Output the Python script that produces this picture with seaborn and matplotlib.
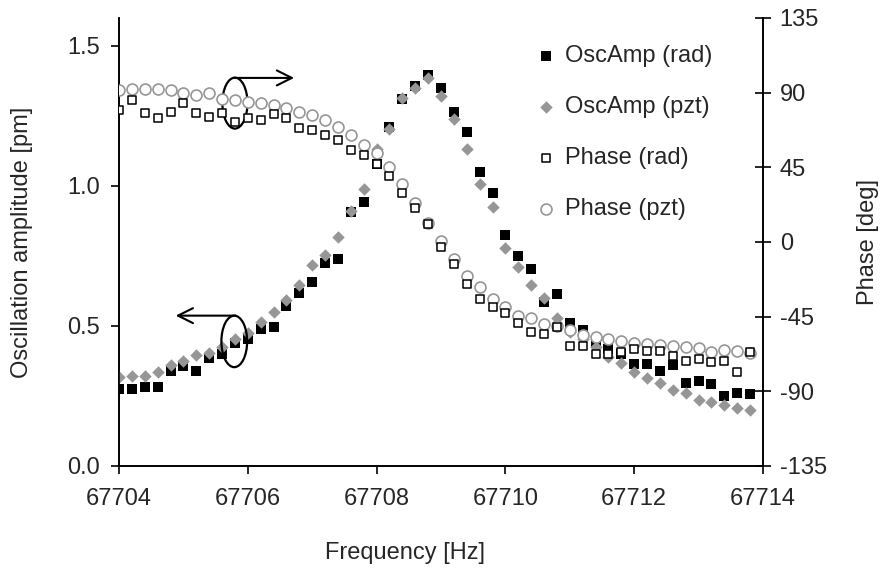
import numpy as np
import pandas as pd
import matplotlib
matplotlib.use("Agg")
import matplotlib.pyplot as plt
from matplotlib.patches import Ellipse
import seaborn as sns

freq = [67704.0, 67704.2, 67704.4, 67704.6, 67704.8, 67705.0, 67705.2, 67705.4, 67705.6, 67705.8,
        67706.0, 67706.2, 67706.4, 67706.6, 67706.8, 67707.0, 67707.2, 67707.4, 67707.6, 67707.8,
        67708.0, 67708.2, 67708.4, 67708.6, 67708.8, 67709.0, 67709.2, 67709.4, 67709.6, 67709.8,
        67710.0, 67710.2, 67710.4, 67710.6, 67710.8, 67711.0, 67711.2, 67711.4, 67711.6, 67711.8,
        67712.0, 67712.2, 67712.4, 67712.6, 67712.8, 67713.0, 67713.2, 67713.4, 67713.6, 67713.8]

amp_rad = [0.275, 0.275, 0.283, 0.283, 0.340, 0.357, 0.340, 0.385, 0.400, 0.438,
           0.452, 0.488, 0.495, 0.571, 0.619, 0.658, 0.724, 0.738, 0.908, 0.944,
           1.077, 1.212, 1.310, 1.357, 1.396, 1.349, 1.265, 1.194, 1.051, 0.974,
           0.825, 0.750, 0.702, 0.587, 0.613, 0.512, 0.486, 0.438, 0.417, 0.399,
           0.363, 0.363, 0.340, 0.361, 0.298, 0.305, 0.292, 0.251, 0.262, 0.257]

amp_pzt = [0.317, 0.321, 0.321, 0.337, 0.361, 0.376, 0.396, 0.405, 0.424, 0.452,
           0.474, 0.515, 0.551, 0.593, 0.646, 0.718, 0.754, 0.818, 0.912, 0.990,
           1.132, 1.204, 1.315, 1.351, 1.387, 1.321, 1.238, 1.132, 1.007, 0.926,
           0.777, 0.712, 0.646, 0.599, 0.530, 0.480, 0.452, 0.426, 0.388, 0.367,
           0.337, 0.313, 0.295, 0.271, 0.260, 0.236, 0.230, 0.218, 0.208, 0.200]

phase_rad = [79.6, 85.6, 77.6, 74.6, 78.5, 83.6, 77.6, 75.5, 77.6, 72.5,
             74.6, 73.5, 77.2, 74.6, 68.5, 67.5, 64.5, 61.5, 55.4, 52.4,
             47.0, 39.8, 29.4, 20.3, 10.7, -2.8, -13.4, -25.5, -34.3, -39.0,
             -43.0, -48.6, -54.4, -55.4, -51.4, -62.5, -62.5, -67.5, -67.5, -66.0,
             -64.5, -65.5, -65.5, -68.5, -71.5, -70.5, -72.5, -71.5, -78.5, -66.5]

phase_pzt = [91.4, 92.4, 92.4, 92.4, 91.4, 89.6, 88.4, 89.6, 86.2, 85.6,
             84.6, 83.6, 82.6, 80.6, 78.5, 76.4, 73.5, 69.5, 64.5, 58.5,
             53.5, 45.0, 34.8, 23.7, 11.6, 0.8, -10.4, -20.3, -27.3, -34.3,
             -39.4, -44.4, -45.6, -49.4, -50.6, -53.0, -56.0, -57.4, -58.5, -59.5,
             -61.0, -61.5, -62.1, -62.5, -63.5, -63.7, -66.1, -65.1, -65.5, -67.1]

series_labels = ["OscAmp (rad)", "OscAmp (pzt)", "Phase (rad)", "Phase (pzt)"]
x_ticks = [67704, 67706, 67708, 67710, 67712, 67714]
amp_ticks = [0.0, 0.5, 1.0, 1.5]
phase_ticks = [-135, -90, -45, 0, 45, 90, 135]

sns.set_theme(style="white")
plt.rcParams["font.family"] = ["Liberation Sans", "DejaVu Sans"]
FS = 17

df = pd.DataFrame({"freq": freq, "amp_rad": amp_rad, "amp_pzt": amp_pzt,
                   "phase_rad": phase_rad, "phase_pzt": phase_pzt})

fig = plt.figure(figsize=(8.87, 5.71), dpi=100)
ax = fig.add_axes([119/887, 1-466/571, (763-119)/887, (466-18)/571])
ax2 = ax.twinx()

GREY = "#969696"
sns.scatterplot(data=df, x="freq", y="amp_rad", ax=ax, marker="s", color="black",
                s=48, linewidth=0, label=series_labels[0], legend=False, zorder=3)
sns.scatterplot(data=df, x="freq", y="amp_pzt", ax=ax, marker="D", color=GREY,
                s=40, linewidth=0, label=series_labels[1], legend=False, zorder=4)
sns.scatterplot(data=df, x="freq", y="phase_pzt", ax=ax2, marker="o", color="white",
                edgecolor=GREY, s=62, linewidth=1.2, label=series_labels[3], legend=False, zorder=3)
sns.scatterplot(data=df, x="freq", y="phase_rad", ax=ax2, marker="s", color="white",
                edgecolor="black", s=30, linewidth=1.1, label=series_labels[2], legend=False, zorder=4)

ax.set_xlim(67704, 67714)
ax.set_ylim(0, 1.6)
ax2.set_ylim(-135, 135)
ax.set_xticks(x_ticks)
ax.set_xticklabels([str(t) for t in x_ticks])
ax.set_yticks(amp_ticks)
ax.set_yticklabels([f"{t:.1f}" for t in amp_ticks])
ax2.set_yticks(phase_ticks)
ax2.set_yticklabels([str(t) for t in phase_ticks])

ax.set_xlabel("Frequency [Hz]", fontsize=FS)
ax.set_ylabel("Oscillation amplitude [pm]", fontsize=FS)
ax2.set_ylabel("Phase [deg]", fontsize=FS)
ax.xaxis.set_label_coords((405-119)/644, (466-553)/448)
ax.yaxis.set_label_coords((22-119)/644, 0.5)
ax2.yaxis.set_label_coords((868-119)/644, 0.5)
ax.xaxis.label.set_va("center")
ax.yaxis.label.set_va("center")
ax2.yaxis.label.set_va("center")

for a in (ax, ax2):
    a.spines["top"].set_visible(False)
    for sp in a.spines.values():
        sp.set_color("black")
        sp.set_linewidth(1.2)
ax.tick_params(axis="x", direction="out", length=6, width=1.2, color="black",
               labelsize=FS, pad=10, bottom=True)
ax.tick_params(axis="y", direction="out", length=6, width=1.2, color="black",
               labelsize=FS, pad=8, left=True)
ax2.tick_params(axis="y", direction="inout", length=12, width=1.2, color="black",
                labelsize=FS, pad=6, right=True)
ax.grid(False)
ax2.grid(False)

# annotation ellipses and arrows
ax.add_patch(Ellipse((67705.80, 1.296), 0.39, 0.182, fill=False, edgecolor="black",
                     linewidth=1.6, zorder=6))
ax.add_patch(Ellipse((67705.79, 0.445), 0.40, 0.184, fill=False, edgecolor="black",
                     linewidth=1.6, zorder=6))
ax.annotate("", xy=(67706.72, 1.386), xytext=(67705.79, 1.386),
            arrowprops=dict(arrowstyle="->", lw=1.5, color="black", mutation_scale=27,
                            shrinkA=0, shrinkB=0), zorder=6)
ax.annotate("", xy=(67704.88, 0.537), xytext=(67705.81, 0.537),
            arrowprops=dict(arrowstyle="->", lw=1.5, color="black", mutation_scale=27,
                            shrinkA=0, shrinkB=0), zorder=6)

h1, l1 = ax.get_legend_handles_labels()
h2, l2 = ax2.get_legend_handles_labels()
hd = dict(zip(l1 + l2, h1 + h2))
leg = ax2.legend([hd[l] for l in series_labels], series_labels,
                 loc="upper left", bbox_to_anchor=(534/887, 1-45/571),
                 bbox_transform=fig.transFigure, frameon=False, fontsize=FS,
                 handlelength=1.0, handletextpad=0.3, labelspacing=1.23,
                 borderpad=0, borderaxespad=0)

fig.savefig("out.png", dpi=100)
